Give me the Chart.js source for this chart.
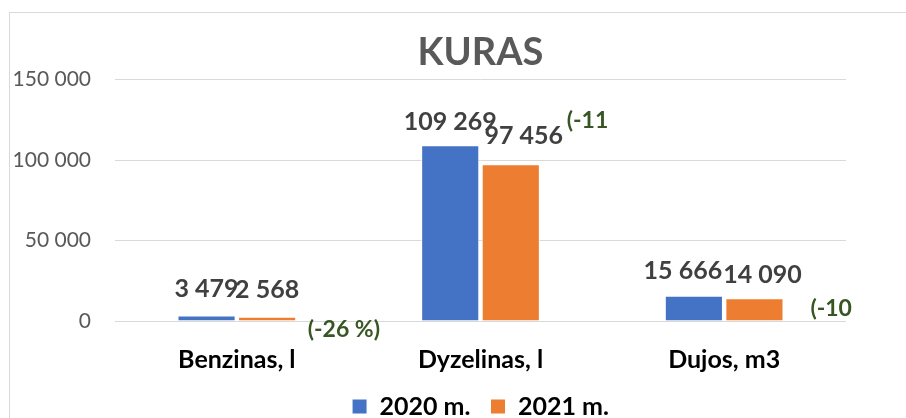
<!DOCTYPE html>
<html>
<head>
<meta charset="utf-8">
<title>KURAS</title>
<script src="https://cdn.jsdelivr.net/npm/chart.js@4.4.1/dist/chart.umd.min.js"></script>
<style>
  html, body { margin: 0; padding: 0; background: #fff; overflow: hidden; }
  #frame {
    position: absolute; left: 9px; top: 12px; width: 1000px; height: 1000px;
    border-left: 1px solid #d9d9d9; border-top: 1px solid #d9d9d9;
  }
  #kurasChart { position: absolute; left: 0; top: 0; }
</style>
</head>
<body>
<div id="frame"></div>
<canvas id="kurasChart" width="906" height="429"></canvas>
<script>
const categories = ["Benzinas, l", "Dyzelinas, l", "Dujos, m3"];
const seriesNames = ["2020 m.", "2021 m."];
const values2020 = [3479, 109269, 15666];
const values2021 = [2568, 97456, 14090];
const changeLabels = ["(-26 %)", "(-11", "(-10"]; // cut off like in the original
const yTickValues = [0, 50000, 100000, 150000];

const FONT = "Lato, 'Open Sans', sans-serif";

// 109269 -> "109 269"
function spaced(v) {
  return String(v).replace(/\B(?=(\d{3})+(?!\d))/g, " ");
}

// value labels above each bar + the % change notes
const barLabels = {
  id: "barLabels",
  afterDatasetsDraw(chart, args, opts) {
    const ctx = chart.ctx;
    ctx.save();
    ctx.textAlign = "center";
    ctx.textBaseline = "alphabetic";
    ctx.font = "bold 25px " + FONT;
    ctx.fillStyle = "#404040";
    chart.data.datasets.forEach((ds, di) => {
      chart.getDatasetMeta(di).data.forEach((bar, i) => {
        // small shifts so neighbouring labels don't sit on top of each other
        const dx = opts.shiftX[di][i], dy = opts.shiftY[di][i];
        ctx.fillText(spaced(ds.data[i]), bar.x + dx, bar.y - opts.gap + dy);
      });
    });

    const xs = chart.scales.x, ys = chart.scales.y;
    ctx.font = "bold 23px " + FONT;
    ctx.fillStyle = "#375623";
    ctx.textBaseline = "middle";
    changeLabels.forEach((txt, i) => {
      ctx.fillText(txt, xs.getPixelForValue(i) + opts.noteDx, ys.getPixelForValue(opts.noteAt[i]));
    });
    ctx.restore();
  }
};

new Chart(document.getElementById("kurasChart"), {
  type: "bar",
  data: {
    labels: categories,
    datasets: [
      {
        label: seriesNames[0],
        data: values2020,
        backgroundColor: "#4472c4",
        borderColor: "#ffffff",
        borderWidth: 1,
        categoryPercentage: 0.497,
        barPercentage: 0.96,
      },
      {
        label: seriesNames[1],
        data: values2021,
        backgroundColor: "#ed7d31",
        borderColor: "#ffffff",
        borderWidth: 1,
        categoryPercentage: 0.497,
        barPercentage: 0.96,
      },
    ],
  },
  options: {
    responsive: false,
    animation: false,
    layout: { padding: { left: 0, right: 60, top: 0, bottom: 0 } },
    plugins: {
      title: {
        display: true,
        fullSize: false,
        text: "KURAS",
        color: "#595959",
        font: { family: FONT, size: 38, weight: "bold" },
        padding: { top: 30, bottom: 4 },
      },
      legend: {
        position: "bottom",
        fullSize: false,
        labels: {
          color: "#000000",
          font: { family: FONT, size: 25, weight: "bold" },
          boxWidth: 15,
          boxHeight: 15,
          padding: 20,
        },
      },
      tooltip: { enabled: false },
      barLabels: {
        gap: 17,
        shiftX: [[0, 0, -11], [0, 13, 8]],
        shiftY: [[-1, 2, 0], [-2, -3, 2]],
        noteDx: 107,
        noteAt: [-5300, 124600, 7700],
      },
    },
    scales: {
      x: {
        grid: { display: false, drawTicks: false },
        border: { display: false },
        ticks: {
          color: "#000000",
          font: { family: FONT, size: 25, weight: "bold" },
          padding: 24,
          maxRotation: 0,
        },
        afterFit(scale) { scale.height = 53; },
      },
      y: {
        min: 0,
        max: 150000,
        grid: { color: "#d9d9d9", lineWidth: 1, drawTicks: false },
        border: { display: false },
        afterBuildTicks(scale) { scale.ticks = yTickValues.map(v => ({ value: v })); },
        ticks: {
          color: "#595959",
          font: { family: FONT, size: 21 },
          padding: 24,
          callback: v => spaced(v),
        },
        afterFit(scale) { scale.width = 115; },
      },
    },
  },
  plugins: [barLabels],
});
</script>
</body>
</html>
